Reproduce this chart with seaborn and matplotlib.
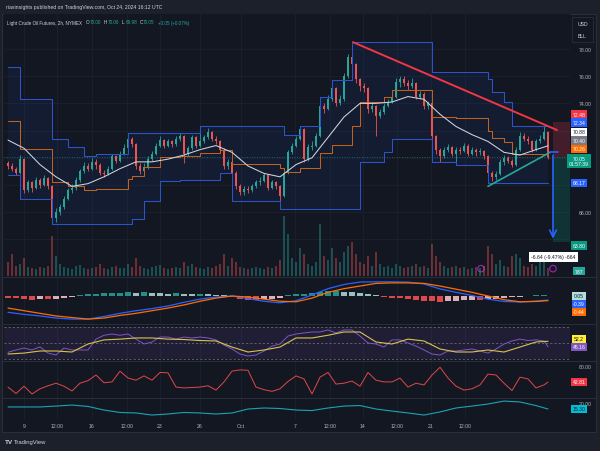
import numpy as np
import matplotlib
matplotlib.use("Agg")
import matplotlib.pyplot as plt
from matplotlib.patches import Rectangle
import seaborn as sns

# ---------------- data (Light Crude Oil, 2h bars) ----------------
first_open = 69.6
closes = [
    69.4, 69.2, 68.9, 69.9, 67.6, 68.2, 67.8, 68.4, 68.0, 68.5,
    67.9, 65.6, 66.0, 66.4, 67.0, 67.6, 67.8, 68.4, 69.0, 69.4,
    69.2, 69.7, 69.5, 68.9, 68.8, 69.2, 70.1, 69.8, 70.3, 70.7,
    71.4, 71.0, 69.4, 69.0, 69.3, 69.9, 70.3, 70.9, 71.3, 70.9,
    71.2, 71.0, 71.4, 71.6, 70.3, 70.7, 71.5, 70.9, 71.2, 71.5,
    71.9, 71.4, 71.2, 70.6, 69.4, 69.7, 68.9, 67.9, 67.5, 67.7,
    67.6, 67.9, 68.2, 68.3, 68.7, 67.8, 68.2, 67.9, 67.2, 68.9,
    70.4, 70.9, 71.4, 72.1, 69.9, 70.8, 70.9, 71.6, 73.8, 73.6,
    74.3, 75.1, 74.0, 74.3, 76.0, 77.4, 76.9, 75.8, 75.3, 75.1,
    73.6, 73.8, 73.1, 73.4, 73.8, 74.1, 74.5, 75.6, 75.8, 75.5,
    75.3, 75.5, 74.5, 74.7, 73.8, 74.0, 71.6, 70.6, 70.1, 70.6,
    70.8, 70.3, 70.6, 70.5, 70.9, 70.3, 70.6, 70.4, 70.5, 70.1,
    68.9, 68.6, 68.8, 69.7, 70.0, 69.8, 69.5, 70.6, 71.6, 71.4,
    71.2, 70.6, 71.2, 71.4, 71.9, 70.05,
]
highs = [
    69.8, 69.6, 69.3, 70.2, 70.0, 68.4, 68.3, 68.6, 68.5, 68.7,
    68.6, 68.0, 66.3, 66.6, 67.2, 67.8, 68.1, 68.6, 69.2, 69.7,
    69.6, 70.0, 69.9, 69.6, 69.1, 69.4, 70.3, 70.2, 70.5, 71.0,
    71.8, 71.5, 71.1, 69.6, 69.6, 70.1, 70.5, 71.1, 71.6, 71.4,
    71.4, 71.3, 71.6, 71.8, 71.7, 70.9, 71.7, 71.6, 72.3, 71.7,
    72.2, 72.0, 71.6, 71.3, 70.7, 69.9, 69.8, 69.0, 68.1, 67.9,
    67.9, 68.1, 68.4, 68.6, 68.9, 68.8, 68.4, 68.3, 68.0, 69.1,
    70.6, 71.1, 71.6, 72.3, 72.2, 71.0, 71.2, 71.8, 74.5, 74.0,
    74.6, 75.7, 75.2, 74.6, 76.2, 77.6, 78.5, 77.0, 75.9, 75.5,
    75.2, 74.1, 73.9, 73.6, 74.0, 74.3, 74.8, 75.9, 76.0, 76.0,
    75.7, 75.9, 75.6, 74.9, 74.8, 74.2, 74.1, 71.7, 70.7, 70.8,
    71.0, 70.9, 70.8, 70.8, 71.1, 71.0, 70.8, 70.7, 70.7, 70.6,
    70.2, 69.0, 69.0, 69.9, 70.2, 70.1, 69.9, 70.8, 71.9, 71.8,
    71.6, 71.3, 71.4, 71.7, 72.3, 72.0,
]
lows = [
    69.2, 69.0, 68.7, 68.8, 67.4, 67.5, 67.5, 67.7, 67.8, 67.9,
    67.7, 65.1, 65.3, 65.8, 66.2, 66.9, 67.4, 67.6, 68.2, 68.9,
    69.0, 69.1, 69.2, 68.7, 68.6, 68.7, 69.1, 69.6, 69.7, 70.2,
    70.6, 70.8, 69.2, 68.8, 68.9, 69.2, 69.8, 70.2, 70.8, 70.7,
    70.8, 70.8, 70.9, 71.2, 69.6, 70.1, 70.6, 70.7, 70.8, 71.1,
    71.4, 71.2, 71.0, 70.4, 69.2, 69.2, 68.6, 67.7, 67.3, 67.3,
    67.4, 67.5, 67.8, 68.0, 68.2, 67.6, 67.7, 67.7, 66.2, 67.1,
    68.8, 70.3, 70.8, 71.3, 69.7, 69.8, 70.6, 70.8, 71.5, 73.3,
    73.5, 74.2, 73.8, 73.9, 74.2, 75.9, 76.7, 75.5, 74.9, 74.8,
    73.3, 73.4, 71.6, 72.9, 73.2, 73.7, 74.0, 74.4, 75.2, 75.3,
    75.0, 75.1, 74.3, 74.3, 73.6, 73.6, 71.4, 70.3, 69.7, 70.0,
    70.4, 70.1, 69.5, 70.3, 70.4, 70.1, 70.2, 70.1, 70.2, 69.9,
    68.17, 68.3, 68.4, 68.7, 69.5, 69.6, 69.3, 69.4, 70.5, 71.2,
    71.0, 70.4, 70.5, 71.1, 71.3, 69.9,
]
# volume, hundreds of contracts
volume = [
    14, 22, 10, 12, 18, 9, 8, 7, 9, 8,
    10, 40, 20, 12, 9, 8, 7, 10, 11, 8,
    7, 8, 9, 12, 8, 7, 9, 10, 8, 8,
    12, 9, 18, 10, 8, 7, 9, 10, 11, 8,
    7, 8, 9, 8, 14, 10, 12, 9, 8, 7,
    9, 8, 10, 12, 22, 10, 18, 14, 9, 8,
    7, 8, 9, 8, 7, 9, 8, 10, 16, 60,
    42, 18, 14, 28, 22, 12, 10, 14, 52, 20,
    16, 28, 18, 14, 24, 30, 34, 22, 14, 12,
    20, 10, 24, 12, 9, 10, 8, 12, 10, 8,
    9, 10, 12, 9, 10, 8, 32, 20, 14, 10,
    8, 9, 10, 8, 9, 7, 8, 9, 8, 10,
    30, 22, 12, 16, 10, 9, 20, 22, 18, 10,
    9, 12, 10, 14, 16, 8,
]

# Donchian channel: (bar where the level starts, level)
upper_at = [0, 3, 11, 15, 19, 22, 30, 48, 69, 73, 78, 81, 86, 106, 120, 121, 124, 126]
upper_val = [76.7, 74.3, 71.4, 70.8, 70.1, 70.3, 71.8, 72.3, 71.7, 72.3, 74.5, 75.7, 78.5,
             76.3, 75.8, 74.8, 74.1, 72.34]
lower_at = [0, 3, 11, 31, 34, 38, 43, 53, 56, 68, 88, 94, 96, 106, 112, 120]
lower_val = [68.7, 67.0, 65.1, 65.5, 66.8, 68.3, 68.4, 68.9, 66.8, 66.2, 69.7, 70.4, 71.4,
             69.7, 69.5, 68.17]
basis_at = [0, 3, 11, 15, 19, 22, 30, 31, 34, 38, 43, 48, 53, 56, 68, 69, 73, 78, 81, 86,
            88, 94, 96, 106, 112, 120, 121, 124, 126]
basis_val = [72.7, 70.65, 68.25, 67.95, 67.6, 67.7, 68.45, 68.65, 69.3, 70.05, 70.1, 70.35,
             70.6, 69.55, 69.25, 68.95, 69.25, 70.35, 70.95, 72.35, 74.1, 74.45, 74.95, 73.0,
             72.9, 71.99, 71.49, 71.14, 70.26]

# smooth series, one reading every 4 bars
ma_vals = [71.3, 70.7, 69.5, 68.6, 67.9, 68.1, 68.6, 69.2, 69.7, 69.7, 69.9, 70.2, 70.6,
           70.9, 70.4, 69.4, 68.85, 68.6, 69.5, 70.0, 71.5, 73.0, 74.0, 74.0, 74.1, 74.5,
           74.3, 73.2, 72.3, 71.7, 71.2, 70.4, 70.2, 70.6, 70.88]
macd_line = [-1.55, -1.75, -1.9, -2.1, -2.2, -2.2, -1.95, -1.65, -1.4, -1.2, -0.95, -0.6,
             -0.3, -0.1, 0.0, -0.25, -0.5, -0.65, -0.45, 0.1, 0.7, 1.1, 1.33, 1.35, 1.35,
             1.32, 1.15, 0.67, 0.35, 0.05, -0.3, -0.52, -0.57, -0.48, -0.39]
signal_line = [-1.15, -1.4, -1.65, -1.9, -2.05, -2.2, -2.1, -1.85, -1.65, -1.4, -1.15, -0.85,
               -0.5, -0.2, 0.0, -0.1, -0.3, -0.5, -0.55, -0.2, 0.35, 0.7, 0.95, 1.2, 1.25,
               1.25, 1.2, 0.95, 0.65, 0.35, 0.0, -0.35, -0.55, -0.52, -0.44]
rsi_ma = [35.8, 37, 39.7, 39.7, 38.4, 48.7, 54, 55, 56.5, 56.5, 55, 54.5, 53.2, 52.6, 44.8,
          38.4, 41, 44.8, 56.5, 56.5, 60, 64.2, 64.2, 51.3, 48.7, 55, 52.6, 42.3, 38.4, 38.4,
          41, 38.4, 44.8, 51.3, 52.2]
adx_vals = [16.9, 16.9, 16.9, 17.6, 18.4, 17.3, 14.5, 12.6, 12.2, 10.6, 11.4, 12.6, 12.2,
            11.4, 12.2, 15.3, 16.1, 15.7, 14.5, 14.1, 16.1, 17.6, 18.0, 15.3, 13.7, 12.2,
            10.6, 13.0, 16.1, 17.6, 19.2, 21.5, 20.8, 18.0, 15.3]

# noisier series, one reading every 2 bars
macd_hist = [-0.15, -0.2, -0.3, -0.35, -0.3, -0.3, -0.25, -0.15, -0.05, 0.05,
             0.15, 0.2, 0.25, 0.3, 0.3, 0.35, 0.3, 0.35, 0.3, 0.25,
             0.2, 0.25, 0.2, 0.15, 0.2, 0.15, 0.1, 0.05, -0.1, -0.25,
             -0.35, -0.35, -0.3, -0.25, -0.15, 0.05, 0.15, 0.2, 0.3, 0.4,
             0.45, 0.45, 0.4, 0.35, 0.3, 0.2, 0.1, -0.05, -0.15, -0.2,
             -0.25, -0.35, -0.45, -0.5, -0.55, -0.5, -0.45, -0.4, -0.35, -0.35,
             -0.3, -0.25, -0.15, -0.1, -0.05, 0.0, 0.05, 0.05]
rsi_vals = [38, 41, 43.5, 41, 45, 37, 34.5, 43.5, 41, 41,
            41, 55, 60, 61.6, 60, 61.6, 55, 48.7, 51.3, 57.7,
            57.7, 55, 57.7, 56.5, 57.7, 56.5, 54, 47.4, 42.3, 35.8,
            33.2, 34.5, 39.7, 46, 48.7, 59, 61.6, 63, 64.2, 64.2,
            66.8, 63, 66.8, 66.8, 59, 50, 48.7, 44.8, 54, 54,
            50, 46, 41, 35.8, 34.5, 39.7, 39.7, 41, 42.3, 39.7,
            37, 42.3, 48.7, 52.6, 55, 53.2, 54, 52.6, 45.16]
osc_vals = [31, 16, 33, 15, 27, 34, 40, 33, 22, 40,
            46, 59, 41, 43, 68, 52, 47, 57, 47, 65,
            64, 31, 29, 30, 31, 34, 24, 43, 68, 71,
            70, 31, 25, 21, 27, 44, 57, 50, 15, 54,
            65, 38, 40, 45, 33, 65, 47, 43, 43, 52,
            31, 40, 36, 59, 77, 52, 33, 24, 27, 36,
            61, 59, 40, 23, 54, 50, 29, 36, 42.81]

# drawings: trend lines and short-position target
resist_x, resist_y = [86.25, 137.25], [78.5, 72.04]
support_x, support_y = [120, 135.5], [67.9, 70.4]
entry_price, stop_price, target_price = 70.05, 72.6, 63.8

tick_bars = [4, 12.25, 21, 29.75, 38, 48, 58.25, 71.75, 80.5, 88.75, 97.25, 105.75, 114.25]
tick_labels = ["9", "12:00", "16", "12:00", "23", "26", "Oct", "7", "12:00", "14", "12:00",
               "21", "12:00"]
price_grid = [78, 76, 74, 72, 70, 68, 66, 64]
price_ticks = [78, 76, 74, 66]   # the others sit under the coloured value tags

# ---------------- styling ----------------
sns.set_theme(style="dark")
plt.rcParams['font.family'] = ['Liberation Sans', 'DejaVu Sans']

BG = '#131722'
OUTER = '#1c202b'
GRID = '#1c2130'
SEP = '#2a2e39'
TXT = '#b2b5be'
UP, DOWN = '#26a69a', '#ef5350'
FS = 3.7

W, H = 600, 452
fig = plt.figure(figsize=(6, 4.52), dpi=100, facecolor=OUTER)
fig.patches.append(Rectangle((2 / W, 1 - 433 / H), 594 / W, 418 / H, transform=fig.transFigure,
                             fc=BG, ec=SEP, lw=0.8, zorder=-5))


def pane(top, bottom, left=4, right=570):
    a = fig.add_axes([left / W, 1 - bottom / H, (right - left) / W, (bottom - top) / H])
    a.set_facecolor(BG)
    a.set_xlim(-1, 140.5)
    for s in a.spines.values():
        s.set_visible(False)
    a.set_xticks([])
    a.set_yticks([])
    a.grid(False)
    for t in tick_bars:
        a.axvline(t, color=GRID, lw=0.6, zorder=0)
    return a


def right_ticks(a, vals, labels):
    a.yaxis.tick_right()
    a.set_yticks(vals)
    a.set_yticklabels(labels, fontsize=FS, color=TXT)
    a.tick_params(axis='y', which='both', left=False, labelleft=False, right=False,
                  labelright=True, length=0, pad=6)


def expand(at, val, n):
    return np.repeat(val, np.diff(list(at) + [n]))


n = len(closes)
bars = np.arange(n)
c = np.array(closes)
o = np.array([first_open] + closes[:-1])
up = c >= o
cols = np.where(up, UP, DOWN)
four_bar = list(range(0, 133, 4)) + [135]
two_bar = list(range(0, 135, 2)) + [135]
hist_bars = list(range(0, 135, 2))

# ---------------- price pane ----------------
ax = pane(15, 277)
ax.set_ylim(61.31, 80.57)
for p in price_grid:
    ax.axhline(p, color=GRID, lw=0.6, zorder=0)

upper = expand(upper_at, upper_val, n)
lower = expand(lower_at, lower_val, n)
basis = expand(basis_at, basis_val, n)
ax.fill_between(bars, lower, upper, step='post', color='#2962ff', alpha=0.07, lw=0, zorder=1)
ax.step(bars, upper, where='post', color='#2b54cc', lw=0.75, zorder=4)
ax.step(bars, lower, where='post', color='#2b54cc', lw=0.75, zorder=4)
ax.step(bars, basis, where='post', color='#c0621f', lw=0.75, zorder=4)

ax.vlines(bars, lows, highs, colors=cols, lw=0.6, zorder=3)
ax.bar(bars, np.maximum(np.abs(c - o), 0.05), bottom=np.minimum(c, o), width=0.62,
       color=cols, lw=0, zorder=3)
sns.lineplot(x=four_bar, y=ma_vals, ax=ax, color='#d1d4dc', lw=0.75, zorder=5)

ax.axhline(entry_price, color=UP, lw=0.6, ls=(0, (1, 2)), alpha=0.7, zorder=2)
sns.lineplot(x=resist_x, y=resist_y, ax=ax, color='#f23645', lw=1.4, zorder=6)
sns.lineplot(x=support_x, y=support_y, ax=ax, color='#22ab94', lw=1.2, zorder=6)

ax.add_patch(Rectangle((136.25, entry_price), 5, stop_price - entry_price, fc='#f23645',
                       alpha=0.22, lw=0, zorder=2))
ax.add_patch(Rectangle((136.25, target_price), 5, entry_price - target_price, fc='#089981',
                       alpha=0.22, lw=0, zorder=2))
ax.plot([135.4, 137.4], [70.4, 70.4], color='#2962ff', lw=1.2, zorder=7)
ax.annotate('', xy=(136.25, target_price + 0.05), xytext=(136.25, 70.4),
            arrowprops=dict(arrowstyle='->', color='#2962ff', lw=1.2), zorder=7)
ax.scatter([118.25, 136.25], [61.85, 61.85], s=22, facecolors='none', edgecolors='#9c27b0',
           lw=0.8, zorder=7)

axv = ax.twinx()
axv.set_ylim(0, 262)
axv.set_xlim(-1, 140.5)
axv.patch.set_visible(False)
for s in axv.spines.values():
    s.set_visible(False)
axv.set_yticks([])
axv.grid(False)
axv.bar(bars, volume, width=0.7, color=cols, alpha=0.4, lw=0)
axv.set_ylabel('')

# price scale labels (after twinx, which resets the ticks to the left)
right_ticks(ax, price_ticks, [f"{p:.2f}" for p in price_ticks])

# ---------------- MACD pane ----------------
am = pane(278, 324)
am.set_ylim(-2.571, 1.81)
hcols = []
for i, v in enumerate(macd_hist):
    prev = macd_hist[i - 1] if i else v
    if v >= 0:
        hcols.append('#26a69a' if v >= prev else '#b2dfdb')
    else:
        hcols.append('#ff5252' if v <= prev else '#ffcdd2')
am.bar(hist_bars, macd_hist, width=1.5, color=hcols, lw=0, alpha=0.85)
sns.lineplot(x=four_bar, y=macd_line, ax=am, color='#2962ff', lw=0.9)
sns.lineplot(x=four_bar, y=signal_line, ax=am, color='#ff6d00', lw=0.9)

# ---------------- RSI pane ----------------
ar = pane(325, 362)
ar.set_ylim(26.8, 74.5)
ar.fill_between([-1, 140.5], 30, 70, color='#7e57c2', alpha=0.12, lw=0)
for lvl in (70, 50, 30):
    ar.axhline(lvl, color='#787b86', lw=0.5, ls=(0, (3, 3)))
sns.lineplot(x=two_bar, y=rsi_vals, ax=ar, color='#7e57c2', lw=0.7)
sns.lineplot(x=four_bar, y=rsi_ma, ax=ar, color='#d9c44a', lw=0.8)

# ---------------- oscillator pane ----------------
ao = pane(362, 399)
ao.set_ylim(5.6, 91.6)
sns.lineplot(x=two_bar, y=osc_vals, ax=ao, color='#e04848', lw=0.7)
right_ticks(ao, [80], ["80.00"])

# ---------------- ADX pane ----------------
aa = pane(399, 420)
aa.set_ylim(7.5, 23.9)
sns.lineplot(x=four_bar, y=adx_vals, ax=aa, color='#1ba3b5', lw=0.8)
right_ticks(aa, [20], ["20.00"])
aa.set_xticks(tick_bars)
aa.set_xticklabels(tick_labels, fontsize=FS, color=TXT)
aa.tick_params(axis='x', length=0, pad=3)
for a in (ax, am, ar, ao, aa):
    a.set_xlabel('')
    a.set_ylabel('')

for y in (277.5, 324.5, 362, 399):
    fig.add_artist(plt.Line2D([2 / W, 596 / W], [1 - y / H] * 2, color=SEP, lw=0.7))


# ---------------- text ----------------
def ftext(x, y, s, **kw):
    kw.setdefault('fontsize', FS)
    kw.setdefault('color', '#d1d4dc')
    kw.setdefault('va', 'center')
    fig.text(x / W, 1 - y / H, s, **kw)


def tag(y, s, fc, tc='white'):
    ftext(579, y, s, ha='center', color=tc, fontsize=FS,
          bbox=dict(boxstyle='square,pad=0.3', fc=fc, ec='none'))


ftext(6, 7, "riasinsights published on TradingView.com, Oct 24, 2024 16:12 UTC")
ftext(7, 23, "Light Crude Oil Futures, 2h, NYMEX", fontsize=3.35)
for x, letter, val in [(86, "O", "70.00"), (104, "H", "70.06"), (122, "L", "69.98"),
                       (139.5, "C", "70.05")]:
    ftext(x, 23, letter, fontsize=3.35)
    ftext(x + 3.3, 23, val, color=UP, fontsize=3.35)
ftext(157.5, 23, "+0.05 (+0.07%)", color=UP, fontsize=3.35)

fig.patches.append(Rectangle((572 / W, 1 - 43 / H), 21 / W, 25 / H, transform=fig.transFigure,
                             fc=BG, ec=SEP, lw=0.6))
ftext(582.5, 24, "USD", ha='center')
ftext(582.5, 36, "BLL", ha='center')

tag(115.5, "72.48", '#f23645')
tag(123.5, "72.34", '#2962ff')
tag(133, "70.88", '#ffffff', '#131722')
tag(141.5, "70.40", '#787b86')
tag(150, "70.26", '#ff6d00')
tag(162, "70.05\n01:57:39", '#089981')
tag(184, "68.17", '#2962ff')
tag(246.5, "63.80", '#089981')
tag(272, "787", '#26a69a')
tag(297, "0.05", '#b2dfdb', '#131722')
tag(305, "-0.39", '#2962ff')
tag(313, "-0.44", '#ff6d00')
tag(340, "52.2", '#ffeb3b', '#131722')
tag(348, "45.16", '#7e57c2')
tag(383, "42.81", '#f23645')
tag(410, "15.30", '#00bcd4', '#131722')

ftext(531, 258, "-6.64 (-9.47%) -664", color='#131722',
      bbox=dict(boxstyle='square,pad=0.4', fc='#ffffff', ec='none'))

ftext(5, 443, "TV", fontweight='bold', fontsize=4.6)
ftext(14, 443, "TradingView", fontsize=4.2)

fig.savefig("out.png", dpi=100, facecolor=OUTER)
